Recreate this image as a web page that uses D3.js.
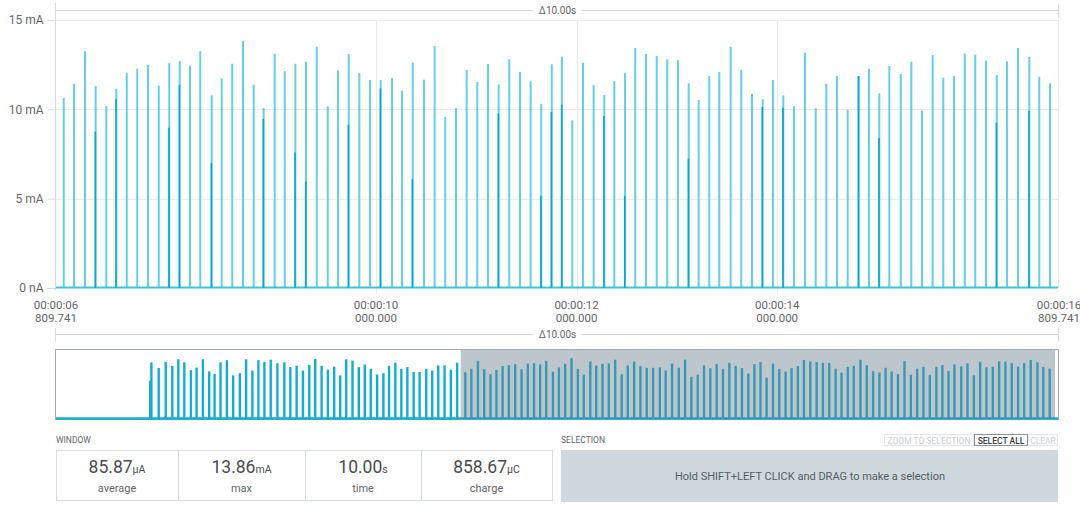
<!DOCTYPE html>
<html>
<head>
<meta charset="utf-8">
<script src="https://cdn.jsdelivr.net/npm/d3@7"></script>
<style>
  html, body { margin: 0; padding: 0; background: #fff; }
  svg { display: block; font-family: Roboto, "Open Sans", sans-serif; }
</style>
</head>
<body>
<script>
// spikes in the current 10 s window (seconds, mA)
var mainTimes = [6.887,6.989,7.099,7.205,7.311,7.411,7.515,7.620,7.727,7.834,
  7.939,8.043,8.146,8.248,8.362,8.462,8.567,8.674,8.781,8.880,
  8.990,9.090,9.196,9.302,9.409,9.519,9.621,9.728,9.834,9.940,
  10.047,10.160,10.259,10.366,10.479,10.585,10.691,10.798,10.904,11.010,
  11.117,11.223,11.329,11.436,11.542,11.648,11.752,11.854,11.957,12.064,
  12.170,12.276,12.376,12.483,12.585,12.692,12.799,12.904,13.011,13.118,
  13.217,13.323,13.423,13.536,13.642,13.749,13.855,13.958,14.061,14.167,
  14.277,14.384,14.490,14.596,14.703,14.813,14.915,15.018,15.118,15.232,
  15.337,15.444,15.550,15.656,15.763,15.870,15.975,16.082,16.189,16.291,
  16.401,16.514,16.613,16.720];
var mainPeaks = [10.63,11.43,13.25,11.30,10.18,11.15,12.03,12.26,12.48,11.32,
  12.59,12.70,12.44,13.25,10.78,11.73,12.55,13.84,11.38,10.07,
  13.11,12.14,12.55,12.66,13.50,10.17,12.18,13.09,12.03,11.64,
  11.64,11.75,11.04,12.61,11.66,13.54,9.57,10.07,12.20,11.53,
  12.53,11.40,12.81,12.09,11.57,10.31,12.52,12.94,9.38,12.61,
  11.36,10.80,11.57,12.03,13.43,13.09,12.98,12.80,12.76,11.45,
  10.52,11.86,12.09,13.50,12.22,10.87,10.56,11.64,10.78,10.18,
  13.17,10.06,11.43,11.86,9.98,11.86,12.27,10.90,12.42,11.98,
  12.66,9.92,13.04,11.77,11.86,13.13,13.06,12.72,11.92,12.69,
  13.43,12.93,11.82,11.45];
// shorter second peak inside some spikes (0 = none)
var secondPeaks = [0,0,0,8.75,0,10.58,0,0,0,0,
  8.97,11.36,0,0,7.0,0,0,0,0,9.47,
  0,0,7.58,5.95,0,0,0,9.12,0,0,
  11.17,0,0,6.1,0,0,0,0,0,0,
  0,9.77,0,0,0,5.15,9.85,10.25,0,0,
  0,9.62,0,5.15,0,0,0,0,0,7.25,
  0,0,0,0,0,0,10.13,0,10.09,0,
  0,0,0,0,0,11.86,0,8.4,0,0,
  0,0,0,0,0,0,0,0,9.25,0,
  0,9.9,0,0];

// spikes before the window, only seen in the overview
var earlyTimes = [1.585,1.605,1.728,1.846,1.957,2.058,2.159,2.270,2.366,2.472,2.578,
  2.668,2.768,2.875,2.981,3.093,3.199,3.305,3.406,3.507,3.613,
  3.725,3.842,3.943,4.049,4.156,4.262,4.362,4.469,4.575,4.681,
  4.782,4.883,4.989,5.095,5.196,5.296,5.403,5.509,5.604,5.710,
  5.811,5.912,6.018,6.118,6.230,6.331,6.432,6.538,6.644,6.750];
var earlyPeaks = [8.7,12.9,11.6,13.0,12.1,13.6,12.9,11.1,11.7,13.6,10.8,
  10.2,12.9,13.4,9.9,10.4,13.6,11.0,13.4,13.0,13.5,
  12.7,12.9,11.8,12.1,11.0,12.3,13.7,12.1,11.2,11.9,
  9.9,13.6,13.3,11.8,12.4,11.4,10.1,10.4,12.1,12.8,
  11.4,11.8,10.7,10.7,11.4,11.0,12.2,12.2,11.2,12.8];

var yTicks = [0, 5, 10, 15];
var yTickLabels = ['0 nA', '5 mA', '10 mA', '15 mA'];
var xTicks = [6.809741, 10, 12, 14, 16.809741];
var xTickTime = ['00:00:06', '00:00:10', '00:00:12', '00:00:14', '00:00:16'];
var xTickMs = ['809.741', '000.000', '000.000', '000.000', '809.741'];
var windowStart = 6.809741;
var windowEnd = 16.809741;
var totalEnd = 16.86;
var deltaLabel = '\u039410.00s';

var statValues = ['85.87', '13.86', '10.00', '858.67'];
var statUnits = ['\u03bcA', 'mA', 's', '\u03bcC'];
var statLabels = ['average', 'max', 'time', 'charge'];
var statEdges = [56, 178, 305, 421, 552];

var buttons = ['ZOOM TO SELECTION', 'SELECT ALL', 'CLEAR'];
var buttonEdges = [884, 974, 1028, 1058];

(function() {
  var W = 1080, H = 509;
  var left = 56, right = 1059, top = 20, bottom = 288;
  var gridColor = '#e9eaeb';
  var axisColor = '#d6d9db';
  var textColor = '#63676a';
  var cyan = '#3fc3de';
  var cyanDark = '#06a7cc';

  var svg = d3.select('body').append('svg')
    .attr('width', W)
    .attr('height', H);

  var x = d3.scaleLinear().domain([windowStart, windowEnd]).range([left, right]);
  var y = d3.scaleLinear().domain([0, 15]).range([bottom, top]);

  // delta bars above each chart
  function deltaBar(yy) {
    var g = svg.append('g');
    var mid = (left + right) / 2;
    g.append('line').attr('x1', left).attr('x2', mid - 24).attr('y1', yy).attr('y2', yy)
      .attr('stroke', axisColor);
    g.append('line').attr('x1', mid + 24).attr('x2', right - 1).attr('y1', yy).attr('y2', yy)
      .attr('stroke', axisColor);
    g.append('line').attr('x1', left - 0.5).attr('x2', left - 0.5).attr('y1', yy - 7).attr('y2', yy + 7)
      .attr('stroke', axisColor);
    g.append('line').attr('x1', right - 0.5).attr('x2', right - 0.5).attr('y1', yy - 7).attr('y2', yy + 7)
      .attr('stroke', axisColor);
    g.append('text').attr('x', mid).attr('y', yy + 3.5)
      .attr('text-anchor', 'middle').attr('font-size', '10px').attr('fill', textColor)
      .text(deltaLabel);
  }
  deltaBar(10.5);
  deltaBar(334.5);

  // grid
  svg.append('g').selectAll('line.h')
    .data(yTicks.filter(d => d > 0))
    .enter().append('line')
    .attr('x1', left).attr('x2', right)
    .attr('y1', d => Math.round(y(d)) + 0.5).attr('y2', d => Math.round(y(d)) + 0.5)
    .attr('stroke', gridColor);

  svg.append('g').selectAll('line.v')
    .data(xTicks.slice(1, -1))
    .enter().append('line')
    .attr('x1', d => Math.round(x(d)) + 0.5).attr('x2', d => Math.round(x(d)) + 0.5)
    .attr('y1', top).attr('y2', bottom + 6)
    .attr('stroke', gridColor);

  svg.append('line')
    .attr('x1', right - 0.5).attr('x2', right - 0.5).attr('y1', top).attr('y2', bottom)
    .attr('stroke', gridColor);
  svg.append('line')
    .attr('x1', left - 0.5).attr('x2', left - 0.5).attr('y1', 3).attr('y2', bottom + 2)
    .attr('stroke', axisColor);

  // y axis
  var yAxis = svg.append('g').attr('transform', 'translate(' + (left - 0.5) + ',0)')
    .call(d3.axisLeft(y).tickValues(yTicks).tickSize(8).tickFormat((d, i) => yTickLabels[i]));
  yAxis.select('.domain').remove();
  yAxis.selectAll('line').attr('stroke', axisColor);
  yAxis.selectAll('text').attr('font-size', '12px').attr('fill', textColor)
    .attr('font-family', 'Roboto').attr('dx', '-1');

  // x axis labels, two lines each
  var xl = svg.append('g').selectAll('text')
    .data(xTicks)
    .enter().append('text')
    .attr('x', d => x(d))
    .attr('text-anchor', 'middle')
    .attr('font-size', '11.5px')
    .attr('fill', textColor);
  xl.append('tspan').attr('x', d => x(d)).attr('y', 309).text((d, i) => xTickTime[i]);
  xl.append('tspan').attr('x', d => x(d)).attr('y', 322).text((d, i) => xTickMs[i]);

  // signal
  var main = mainTimes.map((t, i) => ({ t: t, v: mainPeaks[i], s: secondPeaks[i] }));

  svg.append('line')
    .attr('x1', left).attr('x2', right - 1)
    .attr('y1', y(0) - 0.5).attr('y2', y(0) - 0.5)
    .attr('stroke', cyan).attr('stroke-width', 2);

  svg.append('g').selectAll('line')
    .data(main)
    .enter().append('line')
    .attr('x1', d => x(d.t)).attr('x2', d => x(d.t))
    .attr('y1', y(0)).attr('y2', d => y(d.v))
    .attr('stroke', cyan).attr('stroke-width', 2).attr('stroke-opacity', 0.8);

  svg.append('g').selectAll('line')
    .data(main.filter(d => d.s > 0))
    .enter().append('line')
    .attr('x1', d => x(d.t) - 0.3).attr('x2', d => x(d.t) - 0.3)
    .attr('y1', y(0)).attr('y2', d => y(d.s))
    .attr('stroke', cyanDark).attr('stroke-width', 1.6);

  // overview
  var mTop = 350, mBottom = 420;
  var mx = d3.scaleLinear().domain([0, totalEnd]).range([left, right - 1]);
  var my = d3.scaleLinear().domain([0, 15.5]).range([mBottom - 1.5, mTop + 1]);
  var all = earlyTimes.map((t, i) => ({ t: t, v: earlyPeaks[i] })).concat(main);

  svg.append('rect')
    .attr('x', left - 0.5).attr('y', mTop - 0.5)
    .attr('width', right - left).attr('height', mBottom - mTop)
    .attr('fill', '#fff').attr('stroke', '#a3acb1');

  svg.append('line')
    .attr('x1', left).attr('x2', right - 1)
    .attr('y1', my(0)).attr('y2', my(0))
    .attr('stroke', '#12add2').attr('stroke-width', 2.5);

  svg.append('g').selectAll('line')
    .data(all)
    .enter().append('line')
    .attr('x1', d => mx(d.t)).attr('x2', d => mx(d.t))
    .attr('y1', my(0)).attr('y2', d => my(d.v))
    .attr('stroke', '#12add2').attr('stroke-width', 2.4);

  svg.append('rect')
    .attr('x', mx(windowStart)).attr('y', mTop)
    .attr('width', mx(windowEnd) - mx(windowStart)).attr('height', mBottom - mTop - 1)
    .attr('fill', 'rgb(106,128,142)').attr('fill-opacity', 0.45);

  // window stats
  svg.append('text').attr('x', 56).attr('y', 443)
    .attr('font-size', '8.5px').attr('fill', textColor).text('WINDOW');

  svg.append('rect')
    .attr('x', statEdges[0] + 0.5).attr('y', 450.5)
    .attr('width', statEdges[4] - statEdges[0]).attr('height', 50)
    .attr('fill', '#fff').attr('stroke', '#d6dcdf');

  svg.append('g').selectAll('line')
    .data(statEdges.slice(1, -1))
    .enter().append('line')
    .attr('x1', d => d + 0.5).attr('x2', d => d + 0.5)
    .attr('y1', 450.5).attr('y2', 500.5)
    .attr('stroke', '#d6dcdf');

  var cells = svg.append('g').selectAll('g')
    .data(statValues)
    .enter().append('g')
    .attr('transform', (d, i) => 'translate(' + (statEdges[i] + statEdges[i + 1]) / 2 + ',0)');

  var val = cells.append('text').attr('y', 473).attr('text-anchor', 'middle').attr('fill', '#4a4d50');
  val.append('tspan').attr('font-size', '17.5px').text(d => d);
  val.append('tspan').attr('font-size', '10.5px').text((d, i) => statUnits[i]);

  cells.append('text').attr('y', 492).attr('text-anchor', 'middle')
    .attr('font-size', '11px').attr('fill', textColor)
    .text((d, i) => statLabels[i]);

  // selection panel
  svg.append('text').attr('x', 561).attr('y', 443)
    .attr('font-size', '8.5px').attr('fill', textColor).text('SELECTION');

  var btn = svg.append('g').selectAll('g')
    .data(buttons)
    .enter().append('g');
  btn.append('rect')
    .attr('x', (d, i) => buttonEdges[i] + 0.5).attr('y', 434.5)
    .attr('width', (d, i) => buttonEdges[i + 1] - buttonEdges[i] - 1).attr('height', 11)
    .attr('fill', '#fff')
    .attr('stroke', (d, i) => i === 1 ? '#8c9296' : '#e3e6e8');
  btn.append('text')
    .attr('x', (d, i) => (buttonEdges[i] + buttonEdges[i + 1]) / 2)
    .attr('y', 443.5)
    .attr('text-anchor', 'middle')
    .attr('font-size', '8.5px')
    .attr('font-weight', (d, i) => i === 1 ? 500 : 400)
    .attr('fill', (d, i) => i === 1 ? '#3c4043' : '#c9cdd0')
    .text(d => d);

  svg.append('rect')
    .attr('x', 561).attr('y', 450)
    .attr('width', 497).attr('height', 52)
    .attr('fill', '#cfd8dc');
  svg.append('text')
    .attr('x', 810).attr('y', 480)
    .attr('text-anchor', 'middle')
    .attr('font-size', '11px').attr('fill', '#555d62')
    .text('Hold SHIFT+LEFT CLICK and DRAG to make a selection');
})();
</script>
</body>
</html>
